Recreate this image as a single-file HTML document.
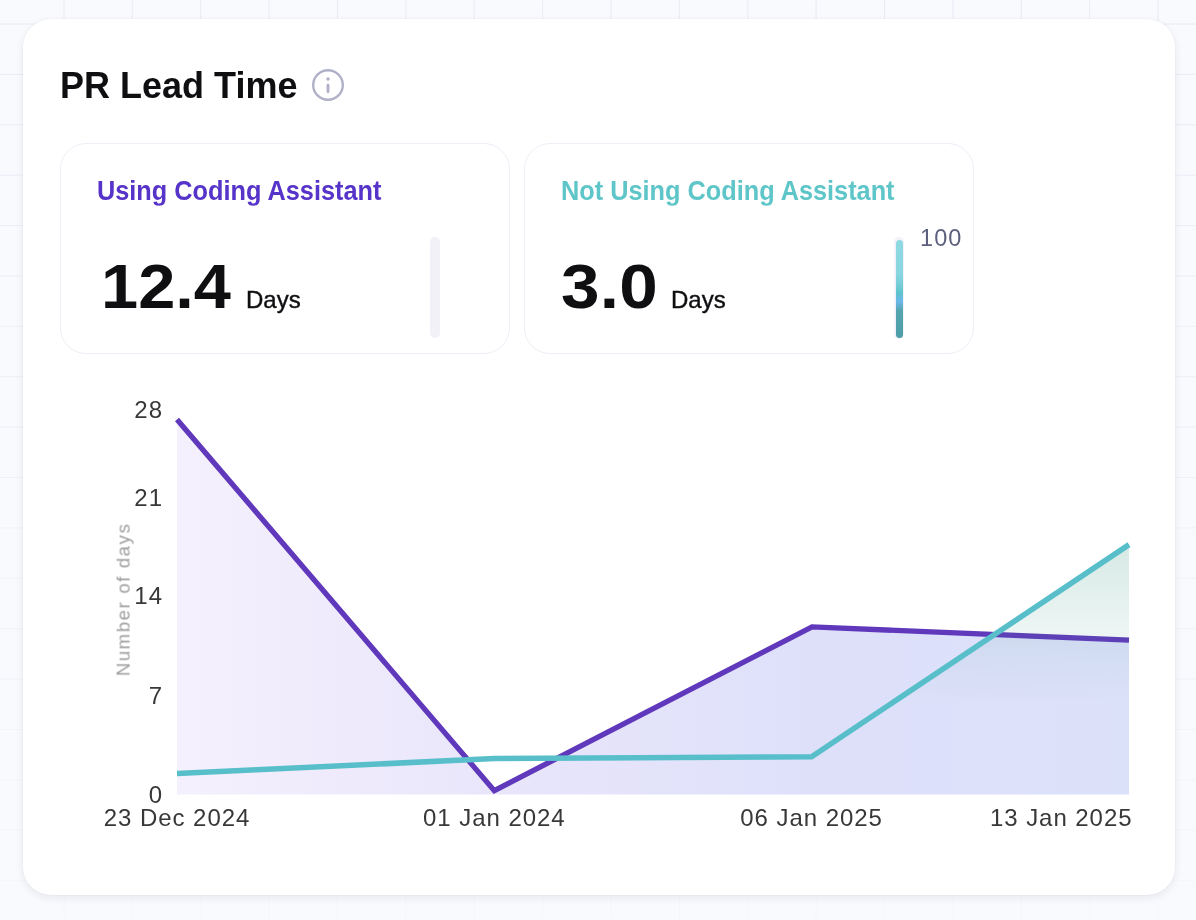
<!DOCTYPE html>
<html>
<head>
<meta charset="utf-8">
<style>
html,body{margin:0;padding:0;}
.title,.lbl,.num,.days,.t100,svg text{will-change:transform;}
body{width:1196px;height:920px;overflow:hidden;position:relative;background-color:#f9fafd;
  font-family:"Liberation Sans", Arial, sans-serif;}
.grid{position:absolute;left:0;top:0;width:1196px;height:920px;
  background-image:linear-gradient(to right, rgba(222,225,238,0.6) 1px, transparent 1px),
                   linear-gradient(to bottom, rgba(222,225,238,0.6) 1px, transparent 1px);
  background-size:68.39px 50.4px;
  background-position:63.5px 23.5px;
  -webkit-mask-image:linear-gradient(to bottom, #000 0%, rgba(0,0,0,0.6) 50%, rgba(0,0,0,0.2) 100%);
  mask-image:linear-gradient(to bottom, #000 0%, rgba(0,0,0,0.6) 50%, rgba(0,0,0,0.2) 100%);}
.card{position:absolute;left:23px;top:19px;width:1152px;height:876px;background:#fff;border-radius:28px;
  box-shadow:0 3px 8px rgba(20,30,70,0.08), 0 0 2px rgba(20,30,70,0.05);}
.title{position:absolute;left:59.8px;top:65px;font-size:36px;font-weight:700;color:#0f0f12;line-height:42px;white-space:nowrap;}
.info{position:absolute;left:312px;top:69.2px;width:32px;height:32px;}
.stat{position:absolute;top:143px;width:448px;height:209px;border:1px solid #efeef7;border-radius:26px;background:#fff;}
.s1{left:60px;}
.s2{left:524px;}
.lbl{position:absolute;left:36.3px;top:32.2px;font-size:25.3px;font-weight:700;white-space:nowrap;line-height:28px;transform:scaleY(1.065);transform-origin:0 4.8px;}
.s1 .lbl{color:#5633c9;}
.s2 .lbl{color:#5ec6c9;}
.num{position:absolute;top:107px;font-size:63px;font-weight:700;color:#0f0f12;line-height:70px;white-space:nowrap;}
.days{position:absolute;font-size:24px;font-weight:400;color:#0f0f12;-webkit-text-stroke:0.4px #0f0f12;white-space:nowrap;line-height:28px;}
.bar{position:absolute;width:10px;border-radius:5px;}
</style>
</head>
<body>
<div class="grid"></div>
<div class="card"></div>
<div class="title">PR Lead Time</div>
<svg class="info" viewBox="0 0 32 32"><circle cx="16" cy="16" r="14.8" fill="none" stroke="#b0b1c8" stroke-width="2.4"/><circle cx="16" cy="10.1" r="1.75" fill="#b0b1c8"/><rect x="14.55" y="14.8" width="2.9" height="9.4" rx="1.45" fill="#b0b1c8"/></svg>

<div class="stat s1">
  <div class="lbl">Using Coding Assistant</div>
  <div class="num" style="left:39.6px;letter-spacing:0px;transform:scaleX(1.06);transform-origin:0 0">12.4</div>
  <div class="days" style="left:184.7px;top:142px">Days</div>
  <div class="bar" style="left:369px;top:93px;height:101px;background:#f2f1f8"></div>
</div>
<div class="stat s2">
  <div class="lbl">Not Using Coding Assistant</div>
  <div class="num" style="left:36.2px;letter-spacing:0.15px;transform:scaleX(1.1);transform-origin:0 0">3.0</div>
  <div class="days" style="left:146.3px;top:142px">Days</div>
  <div class="bar" style="left:369px;top:93px;height:102px;background:#f3f1f9"></div>
  <div class="bar" style="left:370.8px;top:96px;width:7.2px;height:98px;border-radius:3.6px;background:linear-gradient(to bottom,#8fd9e2 0%,#88d6df 35%,#75cdd6 46%,#5ec4cd 54%,#6bb7ea 63%,#55a5b0 72%,#4d9da7 100%)"></div>
  <div class="t100" style="position:absolute;left:394.5px;top:81px;font-size:23.5px;letter-spacing:1.1px;color:#5d5f7e;line-height:26px">100</div>
</div>

<svg style="position:absolute;left:0;top:0" width="1196" height="920" viewBox="0 0 1196 920">
  <defs>
    <linearGradient id="pg" x1="0" y1="0" x2="1" y2="0">
      <stop offset="0" stop-color="#f5f0fd"/>
      <stop offset="0.33" stop-color="#e9e6fb"/>
      <stop offset="0.67" stop-color="#dee0fa"/>
      <stop offset="1" stop-color="#dce1fa"/>
    </linearGradient>
    <linearGradient id="tg" x1="0" y1="0" x2="0" y2="1">
      <stop offset="0" stop-color="#3f9a86" stop-opacity="0.21"/>
      <stop offset="0.64" stop-color="#3f9a86" stop-opacity="0"/>
    </linearGradient>
  </defs>
  <path d="M177 419.5 L494.3 790.6 L812 626.9 L1129 640.2 L1129 794.5 L177 794.5 Z" fill="url(#pg)"/>
  <polyline points="177,419.5 494.3,790.6 812,626.9 1129,640.2" fill="none" stroke="#6038bc" stroke-width="5.3"/>
  <path d="M177 773.5 L494.3 758.6 L811.6 756.8 L1129 544.6 L1129 794.5 L177 794.5 Z" fill="url(#tg)"/>
  <polyline points="177,773.5 494.3,758.6 811.6,756.8 1129,544.6" fill="none" stroke="#58bfca" stroke-width="5.5"/>
  <g font-family="Liberation Sans, Arial, sans-serif" font-size="24" letter-spacing="1" fill="#383838" text-anchor="end">
    <text x="163" y="418">28</text>
    <text x="163" y="506">21</text>
    <text x="163" y="604.2">14</text>
    <text x="163" y="703.5">7</text>
    <text x="163" y="802.5">0</text>
  </g>
  <g font-family="Liberation Sans, Arial, sans-serif" font-size="24" letter-spacing="0.95" fill="#383838" text-anchor="middle">
    <text x="177" y="826">23 Dec 2024</text>
    <text x="494.3" y="826">01 Jan 2024</text>
    <text x="811.6" y="826">06 Jan 2025</text>
    <text x="1132.5" y="826" text-anchor="end">13 Jan 2025</text>
  </g>
  <text x="130" y="599.4" transform="rotate(-90 130 599.4)" text-anchor="middle" font-family="Liberation Sans, Arial, sans-serif" font-size="18.5" letter-spacing="1.65" fill="#9d9d9d">Number of days</text>
</svg>
</body>
</html>
